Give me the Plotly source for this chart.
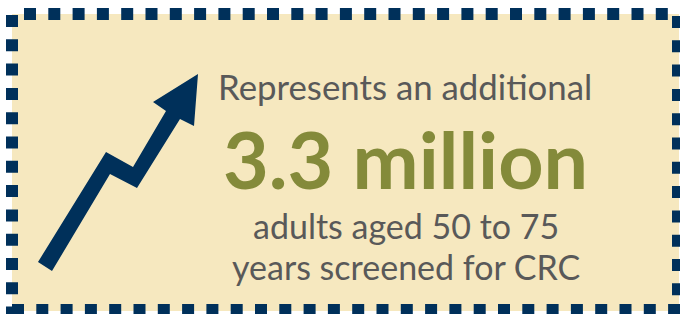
import plotly.graph_objects as go

# Text content
line_top = "Represents an additional"
headline = "3.3 million"
line_sub1 = "adults aged 50 to 75"
line_sub2 = "years screened for CRC"

W, H = 680, 314
NAVY = "#00305A"
FILL = "#F6E8BF"
GRAY = "#595959"
OLIVE = "#848A3A"
FONT = "Lato"

# Arrow outline (pixel space)
arrow_x = [38, 106, 133, 166, 153, 198, 194, 180, 137, 110, 52]
arrow_y = [262, 152, 167, 111, 102, 74, 126, 119, 188, 174, 271]

fig = go.Figure()

shapes = []
# background panel
shapes.append(dict(type="rect", x0=12, y0=14, x1=679, y1=311,
                   fillcolor=FILL, line=dict(width=0), layer="below"))
# dashed border as four sides
dash = "12px,12.3px"
for (x0, y0, x1, y1) in [(24, 14, 680, 14), (12, 15, 12, 320),
                         (678, 16, 678, 320), (12, 310, 690, 310)]:
    shapes.append(dict(type="line", x0=x0, y0=y0, x1=x1, y1=y1,
                       line=dict(color=NAVY, width=12, dash=dash)))
# arrow
path = "M " + " L ".join(f"{x},{y}" for x, y in zip(arrow_x, arrow_y)) + " Z"
shapes.append(dict(type="path", path=path, fillcolor=NAVY, line=dict(width=0)))

annotations = [
    dict(x=405, y=86, text=line_top, font=dict(family=FONT, size=34.8, color=GRAY)),
    dict(x=405, y=158, text="<b>" + headline + "</b>",
         font=dict(family=FONT, size=79, color=OLIVE)),
    dict(x=406, y=225, text=line_sub1, font=dict(family=FONT, size=34, color=GRAY)),
    dict(x=406, y=266, text=line_sub2, font=dict(family=FONT, size=34, color=GRAY)),
]
for a in annotations:
    a.update(xref="x", yref="y", showarrow=False, xanchor="center", yanchor="middle")

fig.update_layout(
    width=W, height=H, margin=dict(l=0, r=0, t=0, b=0),
    paper_bgcolor="white", plot_bgcolor="white",
    xaxis=dict(range=[0, W], visible=False, fixedrange=True),
    yaxis=dict(range=[H, 0], visible=False, fixedrange=True),
    shapes=shapes, annotations=annotations, showlegend=False,
)
fig.write_html("out.html", config={"displayModeBar": False},
               post_script="document.body.style.margin='0';")
